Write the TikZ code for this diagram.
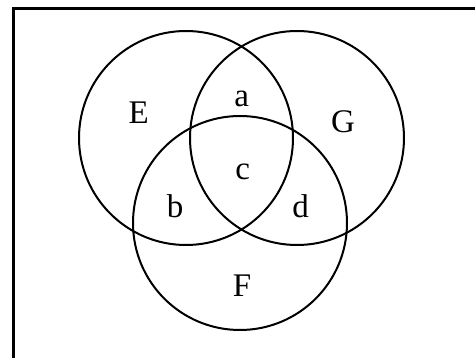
\documentclass[tikz,border=0pt]{standalone}
\usepackage{fontspec}
\setmainfont{Liberation Serif}
\begin{document}
\begin{tikzpicture}[x=1pt,y=-1pt,
  setcircle/.style={draw=black,line width=2pt,circle,minimum size=214pt,inner sep=0pt},
  setlabel/.style={anchor=base,inner sep=0pt,font=\fontsize{33}{40}\selectfont}]
\useasboundingbox (0,0) rectangle (475,358);
\draw[line width=3pt] (13,358) -- (13,9) -- (475,9);
\node[setcircle] (E) at (186,138) {};
\node[setcircle] (G) at (297,138) {};
\node[setcircle] (F) at (240,223) {};
\node[setlabel] (lE) at (138.7,123.3) {E};
\node[setlabel] (la) at (241.7,106.7) {a};
\node[setlabel] (lG) at (343,133) {G};
\node[setlabel] (lc) at (242.7,180) {c};
\node[setlabel] (lb) at (175,218) {b};
\node[setlabel] (ld) at (300.7,218) {d};
\node[setlabel] (lF) at (242,297) {F};
\end{tikzpicture}
\end{document}
